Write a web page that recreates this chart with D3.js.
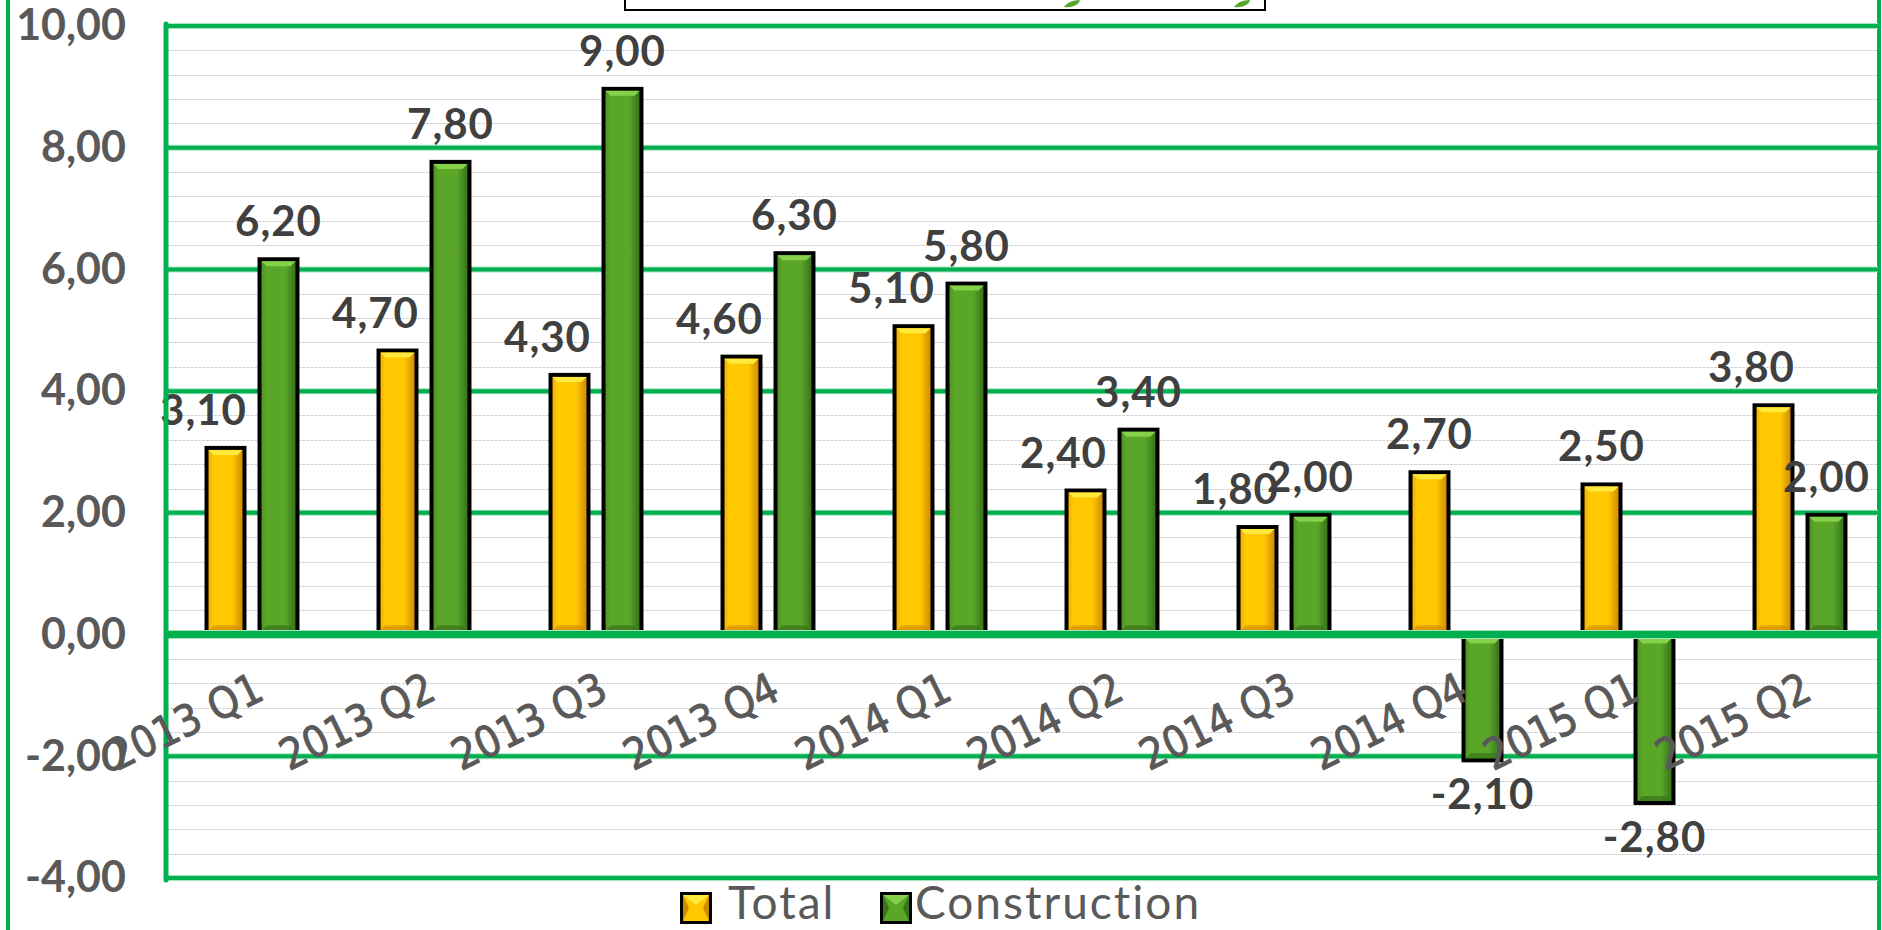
<!DOCTYPE html>
<html>
<head>
<meta charset="utf-8">
<script src="https://cdnjs.cloudflare.com/ajax/libs/d3/7.8.5/d3.min.js"></script>
<style>
	html, body { margin: 0; padding: 0; background: #fff; overflow: hidden; }
	svg { display: block; }
</style>
</head>
<body>
<svg id="chart"></svg>
<script>
// ========== DATA ==========
var categories = ['2013 Q1', '2013 Q2', '2013 Q3', '2013 Q4', '2014 Q1',
	'2014 Q2', '2014 Q3', '2014 Q4', '2015 Q1', '2015 Q2'];
var seriesNames = ['Total', 'Construction'];
var totalValues = [3.1, 4.7, 4.3, 4.6, 5.1, 2.4, 1.8, 2.7, 2.5, 3.8];
var constructionValues = [6.2, 7.8, 9.0, 6.3, 5.8, 3.4, 2.0, -2.1, -2.8, 2.0];
var yTicks = [-4, -2, 0, 2, 4, 6, 8, 10];

makeChart();

function makeChart() {
	// ========== CONSTANTS ==========
	var width = 1882;
	var height = 930;
	var green_line = '#00b050';
	var green_rim = '#a6e3bd';
	var axis_color = '#595959';
	var value_color = '#404040';
	var minor_color = '#cfcfcf';

	var palette = {
		'Total': { base: '#ffc800', light: '#ffe93c', dark: '#d08c00', edge: '#f2b300' },
		'Construction': { base: '#59a628', light: '#86d14b', dark: '#37741a', edge: '#4f9623' }
	};

	var plotLeft = 166;
	var plotRight = 1886; // plot runs past the window edge
	var gridRight = 1878;
	var plotTop = 26;
	var plotBottom = 878;

	var fmt = d3.formatLocale({
		decimal: ',', thousands: '.', grouping: [3], currency: ['', ''], minus: '-'
	}).format('.2f');

	var rows = categories.map(function(c, i) {
		return { cat: c, values: [
			{ key: 'Total', value: totalValues[i] },
			{ key: 'Construction', value: constructionValues[i] }
		]};
	});

	var svg = d3.select('#chart')
		.attr('width', width)
		.attr('height', height)
		.style('font-family', 'Lato, "Open Sans", sans-serif');

	// ========== SCALES ==========
	var x0 = d3.scaleBand()
		.domain(categories)
		.range([plotLeft, plotRight])
		.paddingInner(0.448)
		.paddingOuter(0.224);
	var x1 = d3.scaleBand()
		.domain(seriesNames)
		.range([0, x0.bandwidth()])
		.paddingInner(0.208);
	var y = d3.scaleLinear()
		.domain([-4, 10])
		.range([plotBottom, plotTop]);

	// gradients for the bevelled bars
	var defs = svg.append('defs');
	seriesNames.forEach(function(key) {
		var p = palette[key];
		var grad = defs.append('linearGradient')
			.attr('id', 'grad-' + key)
			.attr('x1', 0).attr('x2', 1).attr('y1', 0).attr('y2', 0);
		grad.append('stop').attr('offset', '0%').attr('stop-color', p.edge);
		grad.append('stop').attr('offset', '15%').attr('stop-color', p.base);
		grad.append('stop').attr('offset', '70%').attr('stop-color', p.base);
		grad.append('stop').attr('offset', '100%').attr('stop-color', p.dark);
	});

	// ========== FRAME ==========
	svg.append('rect')
		.attr('x', 625).attr('y', -20)
		.attr('width', 640).attr('height', 30)
		.attr('fill', '#fff')
		.attr('stroke', '#000')
		.attr('stroke-width', 2);
	// bits of the cropped title peeking through
	[1064, 1234].forEach(function(lx) {
		svg.append('path')
			.attr('d', 'M' + (lx + 16) + ',0 C' + (lx + 15) + ',5 ' + (lx + 8) + ',8 ' + lx + ',7 ' +
				'C' + (lx + 3) + ',3 ' + (lx + 8) + ',0 ' + (lx + 16) + ',0 Z')
			.attr('fill', '#55a82c');
	});

	svg.append('line')
		.attr('x1', 8).attr('x2', 8).attr('y1', 0).attr('y2', height)
		.attr('stroke', green_line).attr('stroke-width', 4);
	svg.append('line')
		.attr('x1', 1879).attr('x2', 1879).attr('y1', 0).attr('y2', height)
		.attr('stroke', green_line).attr('stroke-width', 4);

	// ========== GRIDLINES ==========
	var minorTicks = d3.range(0, 36).filter(function(i) { return i % 5 !== 0; })
		.map(function(i) { return -4 + i * 0.4; });
	svg.append('g').selectAll('line')
		.data(minorTicks).enter().append('line')
			.attr('x1', plotLeft).attr('x2', gridRight)
			.attr('y1', function(d) { return Math.round(y(d)) + 0.5; })
			.attr('y2', function(d) { return Math.round(y(d)) + 0.5; })
			.attr('stroke', minor_color)
			.attr('stroke-width', 1)
			.attr('stroke-dasharray', '3,1');

	var majors = svg.append('g').selectAll('g')
		.data(yTicks.filter(function(d) { return d !== 0; })).enter().append('g');
	majors.append('line')
		.attr('x1', plotLeft).attr('x2', gridRight)
		.attr('y1', function(d) { return y(d); })
		.attr('y2', function(d) { return y(d); })
		.attr('stroke', green_rim).attr('stroke-width', 6);
	majors.append('line')
		.attr('x1', plotLeft).attr('x2', gridRight)
		.attr('y1', function(d) { return y(d); })
		.attr('y2', function(d) { return y(d); })
		.attr('stroke', green_line).attr('stroke-width', 4);

	// ========== BARS ==========
	var groups = svg.append('g').selectAll('g')
		.data(rows).enter().append('g')
			.attr('transform', function(d) { return 'translate(' + x0(d.cat) + ',0)'; });

	groups.each(function(row) {
		var g = d3.select(this);
		row.values.forEach(function(v) {
			drawBar(g, x1(v.key), y(Math.max(v.value, 0)), y(Math.min(v.value, 0)), x1.bandwidth(), v.key);
		});
	});

	function drawBar(g, bx, top, bot, w, key) {
		var p = palette[key];
		var b = 4, bv = 5;
		g.append('rect')
			.attr('x', bx).attr('y', top)
			.attr('width', w).attr('height', bot - top)
			.attr('fill', '#000');
		var ix = bx + b, iy = top + b, iw = w - 2 * b, ih = bot - top - 2 * b;
		g.append('rect')
			.attr('x', ix).attr('y', iy)
			.attr('width', iw).attr('height', ih)
			.attr('fill', 'url(#grad-' + key + ')');
		// top bevel
		g.append('path')
			.attr('d', 'M' + ix + ',' + iy + 'L' + (ix + iw) + ',' + iy +
				'L' + (ix + iw - bv) + ',' + (iy + bv) + 'L' + (ix + bv) + ',' + (iy + bv) + 'Z')
			.attr('fill', p.light);
		// bottom bevel
		g.append('path')
			.attr('d', 'M' + ix + ',' + (iy + ih) + 'L' + (ix + iw) + ',' + (iy + ih) +
				'L' + (ix + iw - bv) + ',' + (iy + ih - bv) + 'L' + (ix + bv) + ',' + (iy + ih - bv) + 'Z')
			.attr('fill', p.dark)
			.attr('opacity', 0.7);
	}

	// zero line and left border drawn over the bars
	svg.append('line')
		.attr('x1', plotLeft).attr('x2', gridRight)
		.attr('y1', y(0)).attr('y2', y(0))
		.attr('stroke', green_rim).attr('stroke-width', 9);
	svg.append('line')
		.attr('x1', plotLeft).attr('x2', gridRight)
		.attr('y1', y(0)).attr('y2', y(0))
		.attr('stroke', green_line).attr('stroke-width', 7);
	svg.append('line')
		.attr('x1', plotLeft).attr('x2', plotLeft)
		.attr('y1', plotTop - 2).attr('y2', plotBottom + 2)
		.attr('stroke', green_line).attr('stroke-width', 5)
		.attr('stroke-linecap', 'round');

	// ========== AXES ==========
	var yAxis = svg.append('g')
		.attr('transform', 'translate(126,0)')
		.call(d3.axisLeft(y).tickValues(yTicks).tickFormat(fmt).tickSize(0).tickPadding(0));
	yAxis.select('.domain').remove();
	yAxis.selectAll('text')
		.attr('fill', axis_color)
		.style('font-family', 'Lato, sans-serif')
		.style('font-weight', 'bold')
		.style('font-size', '43px');

	var xAxis = svg.append('g')
		.attr('transform', 'translate(0,' + y(0) + ')')
		.call(d3.axisBottom(x0).tickSize(0));
	xAxis.select('.domain').remove();
	xAxis.selectAll('text')
		.attr('x', 0).attr('y', 0).attr('dy', 0)
		.attr('text-anchor', 'end')
		.attr('transform', 'translate(14,64) rotate(-26)')
		.attr('fill', axis_color)
		.attr('stroke', axis_color)
		.attr('stroke-width', 0.9)
		.style('font-family', '"DejaVu Sans Condensed", "DejaVu Sans", sans-serif')
		.style('font-stretch', 'condensed')
		.style('font-weight', 'normal')
		.style('font-size', '43px');

	// ========== VALUE LABELS ==========
	groups.each(function(row) {
		var g = d3.select(this);
		var greenUp = row.values[1].value > 0;
		row.values.forEach(function(v) {
			var cx = x1(v.key) + x1.bandwidth() / 2;
			if (v.key === 'Total' && greenUp) cx -= 22;
			var ty = v.value >= 0 ? y(v.value) - 21 : y(v.value) + 47;
			g.append('text')
				.attr('x', cx)
				.attr('y', ty)
				.attr('text-anchor', 'middle')
				.attr('fill', value_color)
				.style('font-weight', 'bold')
				.style('font-size', '42px')
				.style('letter-spacing', '1px')
				.text(fmt(v.value));
		});
	});

	// ========== LEGEND ==========
	var legendMarkX = [680, 880];
	var legendTextX = [728, 915];
	var legend = svg.append('g').selectAll('g')
		.data(seriesNames).enter().append('g');
	legend.append('rect')
		.attr('x', function(d, i) { return legendMarkX[i]; })
		.attr('y', 892)
		.attr('width', 32).attr('height', 32)
		.attr('fill', '#000');
	legend.append('rect')
		.attr('x', function(d, i) { return legendMarkX[i] + 3; })
		.attr('y', 895)
		.attr('width', 26).attr('height', 26)
		.attr('fill', function(d) { return palette[d].dark; });
	legend.append('path')
		.attr('d', function(d, i) {
			var lx = legendMarkX[i] + 3, ly = 895;
			return 'M' + lx + ',' + ly + 'L' + (lx + 26) + ',' + ly + 'L' + (lx + 20) + ',' + (ly + 13) +
				'L' + (lx + 26) + ',' + (ly + 26) + 'L' + lx + ',' + (ly + 26) + 'L' + (lx + 6) + ',' + (ly + 13) + 'Z';
		})
		.attr('fill', function(d) { return palette[d].base; });
	legend.append('path')
		.attr('d', function(d, i) {
			var lx = legendMarkX[i] + 3, ly = 895;
			return 'M' + lx + ',' + ly + 'L' + (lx + 26) + ',' + ly + 'L' + (lx + 13) + ',' + (ly + 10) + 'Z';
		})
		.attr('fill', function(d) { return palette[d].light; });
	legend.append('text')
		.attr('x', function(d, i) { return legendTextX[i]; })
		.attr('y', 919)
		.attr('fill', axis_color)
		.style('font-size', '46px')
		.style('letter-spacing', '2px')
		.text(function(d) { return d; });
}
</script>
</body>
</html>
